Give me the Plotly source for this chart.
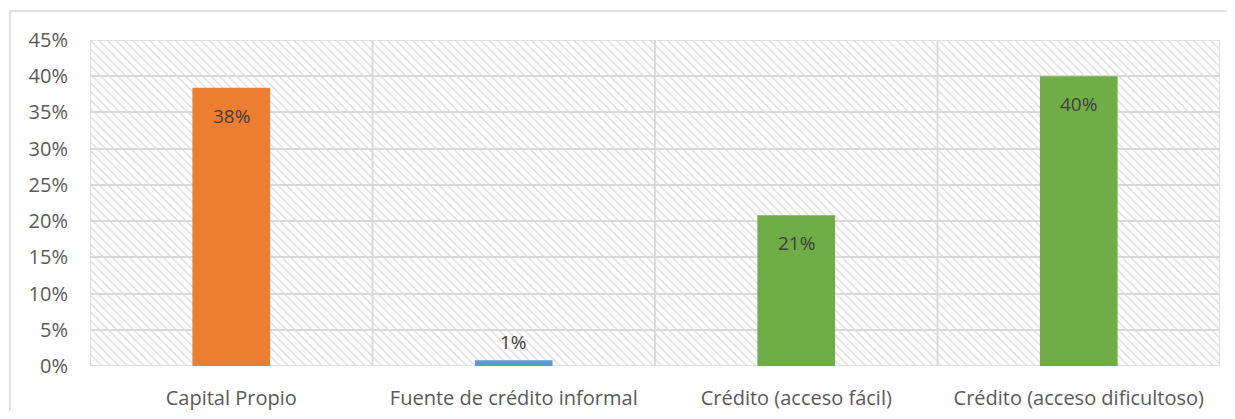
import plotly.graph_objects as go

# categories and values (percent of respondents)
categories = ['Capital Propio', 'Fuente de crédito informal',
              'Crédito (acceso fácil)', 'Crédito (acceso dificultoso)']
values = [38.4, 0.8, 20.8, 40.0]
bar_colors = ['#ED7D31', '#5B9BD5', '#70AD47', '#70AD47']

y_ticks = [0, 5, 10, 15, 20, 25, 30, 35, 40, 45]
y_tick_labels = ['0%', '5%', '10%', '15%', '20%', '25%', '30%', '35%', '40%', '45%']
y_max = 45

font_name = 'Open Sans'
text_grey = '#595959'
label_grey = '#404040'
grid_grey = '#d9d9d9'

fig = go.Figure()

# hatched background of the plot area (one tile per category, borders make the separators)
fig.add_trace(go.Bar(
    x=categories,
    y=[y_max] * len(categories),
    width=1,
    marker=dict(
        color='rgba(0,0,0,0)',
        line=dict(color=grid_grey, width=1.5),
        pattern=dict(shape='\\', fillmode='replace', fgcolor='#dadada',
                     size=6, solidity=0.2),
    ),
    hoverinfo='skip',
    showlegend=False,
))

fig.add_trace(go.Bar(
    x=categories,
    y=values,
    width=0.275,
    marker=dict(color=bar_colors, line_width=0),
    showlegend=False,
))

# data labels: inside end for tall bars, just above for the tiny one
for cat, val in zip(categories, values):
    inside = val > 5
    fig.add_annotation(
        x=cat, y=val, text=f'{val:.0f}%', showarrow=False,
        yanchor='middle', yshift=-28 if inside else 18,
        font=dict(family=font_name, size=19, color=label_grey),
    )

# outer chart border
fig.add_shape(type='rect', xref='paper', yref='paper',
              x0=-0.0708, x1=1.2, y0=-0.3, y1=1.089,
              line=dict(color=grid_grey, width=1.5), layer='below')

fig.update_layout(
    width=1219, height=403,
    margin=dict(l=82, r=7, t=32, b=45),
    paper_bgcolor='white',
    plot_bgcolor='white',
    barmode='overlay',
    font=dict(family=font_name, size=20, color=text_grey),
    xaxis=dict(showgrid=False, zeroline=False, showline=False,
               ticks='', ticklabelstandoff=18, automargin=False,
               tickfont=dict(size=20, color=text_grey)),
    yaxis=dict(range=[0, y_max], tickvals=y_ticks, ticktext=y_tick_labels,
               showgrid=True, gridcolor=grid_grey, gridwidth=1.5,
               zeroline=False, showline=False, ticks='',
               ticklabelstandoff=21, automargin=False,
               tickfont=dict(size=20, color=text_grey)),
)

fig.write_html('out.html')
